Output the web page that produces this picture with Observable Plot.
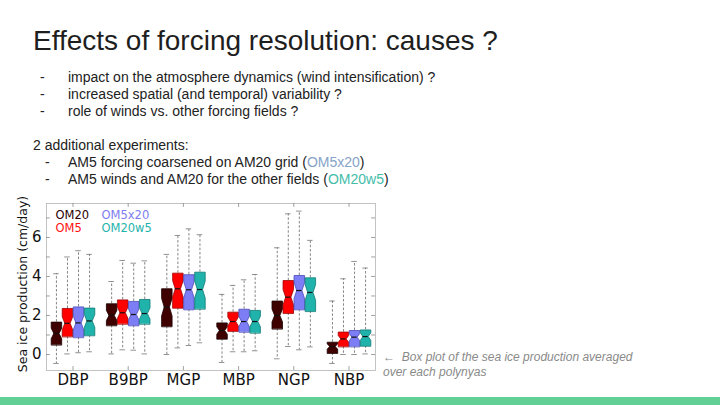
<!DOCTYPE html>
<html>
<head>
<meta charset="utf-8">
<script src="https://cdn.jsdelivr.net/npm/d3@7"></script>
<script src="https://cdn.jsdelivr.net/npm/@observablehq/plot@0.6"></script>
<style>
  html, body { margin: 0; padding: 0; background: #fff; }
  #slide { position: relative; width: 720px; height: 405px; overflow: hidden; background: #fff; font-family: "Liberation Sans", Arial, sans-serif; color: #222; }
  .t { position: absolute; white-space: nowrap; }
  #title { left: 33px; top: 25px; font-size: 28px; color: #1e1e1e; }
  .line { font-size: 14px; line-height: 17px; }
  #chart { position: absolute; left: 0; top: 190px; }
  #caption { left: 383px; top: 350px; font-size: 12px; line-height: 15px; font-style: italic; color: #8a8a8a; }
  #bar { position: absolute; left: 0; top: 397px; width: 720px; height: 8px; background: #62d095; }
</style>
</head>
<body>
<div id="slide">
  <div class="t" id="title">Effects of forcing resolution: causes ?</div>
  <div class="t line" style="left:40px; top:69px;">-</div>
  <div class="t line" style="left:68px; top:69px;">impact on the atmosphere dynamics (wind intensification) ?</div>
  <div class="t line" style="left:40px; top:86px;">-</div>
  <div class="t line" style="left:68px; top:86px;">increased spatial (and temporal) variability ?</div>
  <div class="t line" style="left:40px; top:103px;">-</div>
  <div class="t line" style="left:68px; top:103px;">role of winds vs. other forcing fields ?</div>
  <div class="t line" style="left:33px; top:137px;">2 additional experiments:</div>
  <div class="t line" style="left:45px; top:154px;">-</div>
  <div class="t line" style="left:68px; top:154px;">AM5 forcing coarsened on AM20 grid (<span style="color:#86a3c8">OM5x20</span>)</div>
  <div class="t line" style="left:45px; top:171px;">-</div>
  <div class="t line" style="left:68px; top:171px;">AM5 winds and AM20 for the other fields (<span style="color:#45bcaa">OM20w5</span>)</div>
  <div id="chart"></div>
  <div class="t" id="caption">&larr;&nbsp; Box plot of the sea ice production averaged<br>over each polynyas</div>
  <div id="bar"></div>
</div>
<script>
const categories = ["DBP", "B9BP", "MGP", "MBP", "NGP", "NBP"];
const series = ["OM20", "OM5", "OM5x20", "OM20w5"];
// rows: series, columns: categories
const whiskerLow = [
  [-0.46, 0.03, 0.00, -0.41, -0.22, -0.46],
  [0.03, 0.24, 0.34, 0.14, 0.41, 0.00],
  [0.09, 0.22, 0.46, 0.14, 0.24, 0.00],
  [0.14, 0.03, 0.60, 0.19, 0.39, 0.03]
];
const q1 = [
  [0.50, 1.49, 1.44, 0.80, 1.32, 0.07],
  [0.92, 1.57, 2.39, 1.20, 2.12, 0.41],
  [0.88, 1.49, 2.31, 1.16, 2.31, 0.41],
  [0.98, 1.57, 2.34, 1.11, 2.22, 0.44]
];
const median = [
  [1.08, 2.00, 2.43, 1.23, 2.00, 0.41],
  [1.60, 2.14, 3.37, 1.69, 2.94, 0.80],
  [1.62, 2.05, 3.32, 1.69, 3.28, 0.89],
  [1.72, 2.10, 3.33, 1.69, 3.18, 0.92]
];
const q3 = [
  [1.66, 2.60, 3.37, 1.62, 2.74, 0.63],
  [2.36, 2.80, 4.17, 2.17, 3.79, 1.15],
  [2.44, 2.72, 4.09, 2.32, 4.05, 1.23],
  [2.38, 2.82, 4.22, 2.26, 3.93, 1.26]
];
const whiskerHigh = [
  [4.14, 3.74, 5.13, 3.08, 5.47, 2.74],
  [5.00, 4.82, 6.10, 3.54, 7.21, 3.88],
  [5.32, 4.68, 6.44, 3.83, 7.35, 4.77],
  [5.13, 4.80, 6.14, 4.10, 5.85, 4.43]
];
const sampleSize = 45; // years per box, used for the notch width
const yTicks = [0, 2, 4, 6];
const yLabel = "Sea ice production (cm/day)";

const fills = ["#3f0000", "#ff0000", "#7d7df5", "#1fb3ac"];
const strokes = ["#1a0000", "#a00000", "#4a4ab8", "#0f7a75"];
const legendColors = ["#2a0000", "#ff1010", "#7d7df0", "#1fb3ac"];
const legendDx = [9, 9, 55, 55];
const legendDy = [12, 25, 12, 25];

const offsets = [-0.3, -0.1, 0.1, 0.3];
const boxW = 0.19;
const xDomain = [-0.48, 5.48];
const yDomain = [-0.82, 7.74];

const rows = [];
series.forEach((s, si) => categories.forEach((c, ci) => {
  const iqr = q3[si][ci] - q1[si][ci];
  const notch = Math.min(1.57 * iqr / Math.sqrt(sampleSize), iqr / 2);
  rows.push({
    s, si, c, ci, key: s + c,
    x: ci + offsets[si],
    wlo: whiskerLow[si][ci], q1: q1[si][ci], med: median[si][ci], q3: q3[si][ci], whi: whiskerHigh[si][ci],
    nlo: Math.max(median[si][ci] - notch, q1[si][ci]),
    nhi: Math.min(median[si][ci] + notch, q3[si][ci])
  });
}));

function outline(r) {
  const L = r.x - boxW / 2, R = r.x + boxW / 2, l = r.x - boxW / 4, rr = r.x + boxW / 4;
  return [
    [L, r.q1], [L, r.nlo], [l, r.med], [L, r.nhi], [L, r.q3],
    [R, r.q3], [R, r.nhi], [rr, r.med], [R, r.nlo], [R, r.q1]
  ].map(([x, y]) => ({x, y, key: r.key, si: r.si}));
}
const pts = rows.flatMap(outline);

const boxMarks = series.map((s, si) => Plot.line(pts.filter(p => p.si === si), {
  x: "x", y: "y", z: "key", curve: "linear-closed",
  fill: fills[si], stroke: strokes[si], strokeWidth: 0.8
}));

const legendMarks = series.map((s, si) => Plot.text([s], {
  text: d => d, frameAnchor: "top-left", textAnchor: "start", lineAnchor: "middle",
  fontSize: 11.5, fill: legendColors[si], dx: legendDx[si], dy: legendDy[si]
}));

const whiskerStyle = {stroke: "#666", strokeWidth: 0.8, strokeDasharray: "2.5,1.8"};

const plot = Plot.plot({
  width: 400,
  height: 200,
  marginLeft: 46,
  marginRight: 25,
  marginTop: 13,
  marginBottom: 20,
  style: {fontFamily: "DejaVu Sans, sans-serif", background: "transparent", overflow: "visible"},
  x: {domain: xDomain},
  y: {domain: yDomain},
  marks: [
    Plot.frame({stroke: "#b5b5b5", strokeWidth: 0.8}),
    Plot.ruleY(d3.range(0, 8), {x1: xDomain[0], x2: xDomain[0] + 0.07, stroke: "#888", strokeWidth: 0.8}),
    Plot.ruleY(d3.range(0, 8), {x1: xDomain[1] - 0.07, x2: xDomain[1], stroke: "#888", strokeWidth: 0.8}),
    Plot.ruleX(d3.range(categories.length), {y1: yDomain[1], y2: yDomain[1] - 0.2, stroke: "#888", strokeWidth: 0.8}),
    Plot.ruleX(d3.range(categories.length), {y1: yDomain[0], y2: yDomain[0] + 0.2, stroke: "#888", strokeWidth: 0.8}),
    Plot.ruleX(rows, {x: "x", y1: "q3", y2: "whi", ...whiskerStyle}),
    Plot.ruleX(rows, {x: "x", y1: "q1", y2: "wlo", ...whiskerStyle}),
    Plot.ruleY(rows, {y: "whi", x1: d => d.x - 0.05, x2: d => d.x + 0.05, stroke: "#777", strokeWidth: 0.8}),
    Plot.ruleY(rows, {y: "wlo", x1: d => d.x - 0.05, x2: d => d.x + 0.05, stroke: "#777", strokeWidth: 0.8}),
    ...boxMarks,
    Plot.ruleY(rows, {y: "med", x1: d => d.x - boxW / 4, x2: d => d.x + boxW / 4, stroke: "#111", strokeWidth: 1.2}),
    ...legendMarks,
    Plot.text([yLabel], {text: d => d, frameAnchor: "left", rotate: -90, textAnchor: "middle",
      lineAnchor: "middle", fontSize: 12.5, fill: "#111", dx: -24, dy: -3}),
    Plot.axisY({ticks: yTicks, tickSize: 0, tickPadding: 5, fontSize: 15, fill: "#111", label: null}),
    Plot.axisX({ticks: d3.range(categories.length), tickFormat: i => categories[i], tickSize: 0, tickPadding: 4, fontSize: 15, fill: "#111", label: null})
  ]
});
document.getElementById("chart").appendChild(plot);
</script>
</body>
</html>
